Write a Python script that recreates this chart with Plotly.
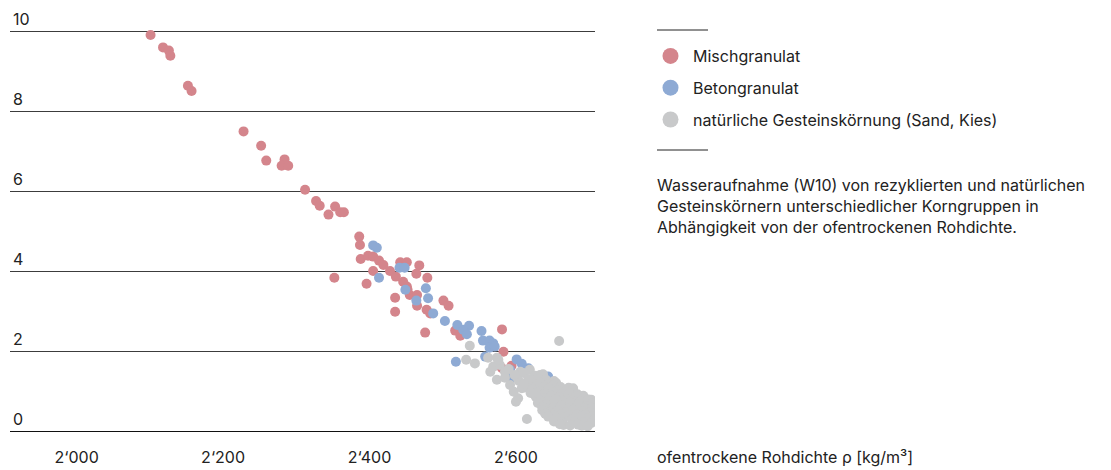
import plotly.graph_objects as go

# --- data ---
misch_x = [2101, 2118, 2126, 2128, 2152, 2157, 2228, 2252, 2259, 2284, 2280, 2289, 2312,
           2327, 2332, 2344, 2353, 2360, 2365, 2386, 2387, 2388, 2398, 2405, 2413, 2419,
           2405, 2428, 2436, 2442, 2451, 2468, 2464, 2479, 2352, 2396, 2446, 2451, 2455,
           2465, 2465, 2435, 2435, 2501, 2508, 2478, 2483, 2476, 2517, 2524, 2581, 2583,
           2581, 2594, 2452]
misch_y = [9.90, 9.59, 9.51, 9.38, 8.63, 8.50, 7.49, 7.13, 6.76, 6.79, 6.63, 6.63, 6.03,
           5.75, 5.63, 5.41, 5.61, 5.47, 5.47, 4.86, 4.65, 4.30, 4.38, 4.36, 4.26, 4.15,
           4.00, 4.00, 3.86, 4.22, 4.22, 4.14, 3.93, 3.83, 3.83, 3.68, 3.73, 3.61, 3.40,
           3.40, 3.13, 3.33, 2.98, 3.26, 3.13, 3.03, 2.94, 2.46, 2.51, 2.38, 2.54, 1.98,
           1.57, 1.63, 3.53]

beton_x = [2405, 2410, 2441, 2448, 2413, 2449, 2477, 2464, 2480, 2487, 2503, 2520, 2536,
           2528, 2533, 2553, 2555, 2564, 2569, 2564, 2571, 2518, 2558, 2601, 2608, 2592,
           2594, 2617, 2644]
beton_y = [4.64, 4.58, 4.08, 4.08, 3.83, 3.53, 3.57, 3.26, 3.32, 2.94, 2.75, 2.65, 2.63,
           2.53, 2.42, 2.50, 2.26, 2.26, 2.19, 2.08, 2.11, 1.73, 1.86, 1.79, 1.68, 1.53,
           1.33, 1.57, 1.36]

natur_x = [2659, 2537, 2532, 2544, 2562, 2574, 2569, 2565, 2574, 2578, 2601, 2603, 2600,
           2615, 2612, 2619, 2628, 2633, 2678, 2703, 2665, 2690, 2705, 2624, 2615, 2608,
           2576, 2585, 2585, 2592, 2606, 2597,
           2626, 2637,
           2630, 2641, 2652,
           2622, 2633, 2644, 2655,
           2628, 2639, 2650, 2661, 2672,
           2623, 2634, 2645, 2656, 2667, 2678,
           2629, 2640, 2651, 2662, 2673, 2684, 2692,
           2627, 2638, 2649, 2660, 2671, 2682, 2693,
           2633, 2644, 2655, 2666, 2677, 2688, 2699,
           2630, 2641, 2652, 2663, 2674, 2685, 2696, 2705,
           2636, 2650, 2661, 2672, 2683, 2694, 2704,
           2636, 2647, 2657, 2668, 2679, 2690, 2701,
           2640, 2651, 2662, 2673, 2684, 2695, 2706,
           2644, 2655, 2666, 2677, 2687, 2698, 2706,
           2652, 2663, 2680, 2692, 2703,
           2660, 2674, 2685, 2698,
           2610, 2617, 2604, 2611, 2620, 2598, 2590]
natur_y = [2.25, 2.13, 1.78, 1.69, 1.83, 1.83, 1.61, 1.48, 1.28, 1.65, 1.36, 0.82, 0.73,
           0.30, 1.09, 1.53, 1.19, 1.40, 1.07, 0.78, 0.15, 0.13, 0.45, 1.32, 1.21, 1.07,
           1.78, 1.48, 1.33, 1.15, 1.48, 0.98,
           1.38, 1.42,
           1.30, 1.28, 1.25,
           1.18, 1.22, 1.16, 1.20,
           1.12, 1.10, 1.13, 1.10, 1.08,
           1.05, 1.00, 1.06, 1.02, 0.98, 1.04,
           0.95, 0.93, 0.96, 0.92, 0.94, 0.92, 0.88,
           0.86, 0.82, 0.88, 0.84, 0.80, 0.87, 0.83,
           0.77, 0.75, 0.78, 0.74, 0.76, 0.75, 0.79,
           0.70, 0.66, 0.69, 0.65, 0.71, 0.67, 0.62, 0.70,
           0.60, 0.58, 0.60, 0.57, 0.59, 0.56, 0.58,
           0.52, 0.48, 0.51, 0.47, 0.53, 0.49, 0.46,
           0.43, 0.40, 0.42, 0.39, 0.41, 0.40, 0.37,
           0.36, 0.31, 0.34, 0.30, 0.35, 0.32, 0.28,
           0.24, 0.22, 0.23, 0.22, 0.20,
           0.17, 0.14, 0.16, 0.12,
           1.45, 1.30, 1.25, 1.18, 0.95, 1.40, 1.55]

names = ["Mischgranulat", "Betongranulat", "natürliche Gesteinskörnung (Sand, Kies)"]
colors = ["#d4858c", "#8eaad4", "#c8c9ca"]
y_ticks = [0, 2, 4, 6, 8, 10]
x_ticks = [2000, 2200, 2400, 2600]
x_ticklabels = ["2‘000", "2‘200", "2‘400", "2‘600"]
x_title = "ofentrockene Rohdichte ρ [kg/m³]"
caption = ("Wasseraufnahme (W10) von rezyklierten und natürlichen<br>"
           "Gesteinskörnern unterschiedlicher Korngruppen in<br>"
           "Abhängigkeit von der ofentrockenen Rohdichte.")

FONT = "Inter, Liberation Sans, Arial, sans-serif"
TXT = "#222222"

# plot area in pixels
L, R, T, B = 10, 595, 29, 431
PW, PH = R - L, B - T


def px(x):
    return (x - L) / PW


def py(y):
    return (B - y) / PH


fig = go.Figure()
series = [(misch_x, misch_y), (beton_x, beton_y), (natur_x, natur_y)]
for (xs, ys), name, col in zip(series, names, colors):
    fig.add_trace(go.Scatter(x=xs, y=ys, mode="markers", name=name, legendgroup=name,
                             showlegend=False,
                             marker=dict(color=col, size=10, line=dict(width=0))))
for name, col in zip(names, colors):
    fig.add_trace(go.Scatter(x=[None], y=[None], mode="markers", name=name, legendgroup=name,
                             showlegend=True,
                             marker=dict(color=col, size=19, line=dict(width=0))))

fig.update_layout(
    template="none",
    width=1111, height=470,
    margin=dict(l=L, r=1111 - R, t=T, b=470 - B, autoexpand=False),
    paper_bgcolor="white", plot_bgcolor="white",
    font=dict(family=FONT, size=16, color=TXT),
    showlegend=True,
    hovermode="closest",
    legend=dict(xref="container", yref="container", x=648 / 1111, y=1 - 39 / 470,
                xanchor="left", yanchor="top", traceorder="grouped", tracegroupgap=8,
                itemwidth=35,
                font=dict(size=16, color=TXT), bgcolor="rgba(0,0,0,0)"),
    xaxis=dict(range=[1909, 2708], tickvals=x_ticks, ticktext=x_ticklabels,
               showgrid=False, zeroline=False, showline=True, linecolor="#111111",
               linewidth=1, ticks="", ticklabelstandoff=12, automargin=False,
               tickfont=dict(size=16, color=TXT)),
    yaxis=dict(range=[0, 10.05], tickvals=y_ticks, showgrid=True, gridcolor="#3c3c3c",
               gridwidth=1, zeroline=False, showline=False, ticks="", automargin=False,
               ticklabelposition="inside top", ticklabeloverflow="allow",
               tickfont=dict(size=16, color=TXT)),
    shapes=[
        dict(type="line", xref="paper", yref="paper", x0=px(657), x1=px(708),
             y0=py(30), y1=py(30), line=dict(color="#222222", width=1)),
        dict(type="line", xref="paper", yref="paper", x0=px(657), x1=px(708),
             y0=py(150), y1=py(150), line=dict(color="#222222", width=1)),
    ],
    annotations=[
        dict(text=caption, xref="paper", yref="paper", x=px(655), y=py(173),
             xanchor="left", yanchor="top", align="left", showarrow=False,
             font=dict(size=16, color=TXT)),
        dict(text=x_title, xref="paper", yref="paper", x=px(655), y=py(457),
             xanchor="left", yanchor="middle", align="left", showarrow=False,
             font=dict(size=16, color=TXT)),
    ],
)

fig.write_html("out.html", config={"displayModeBar": False},
               post_script="document.body.style.margin='0px';")
